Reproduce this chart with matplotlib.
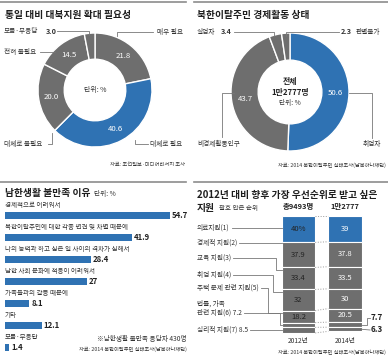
import matplotlib
matplotlib.use('Agg')
import matplotlib.pyplot as plt
import numpy as np

plt.rcParams['font.family'] = ['Noto Sans CJK KR', 'DejaVu Sans']

W, H = 388, 360
BLUE = '#2f72b3'
GRAY = '#6e6e6e'
TXT = '#333333'
RULE = '#8c8c8c'

# 통일 대비 대북지원 확대 필요성
need_labels = ['매우 필요', '대체로 필요', '대체로 불필요', '전혀 불필요', '모름·무응답']
need_values = [21.8, 40.6, 20.0, 14.5, 3.0]

# 북한이탈주민 경제활동 상태
econ_labels = ['취업자', '비경제활동인구', '실업자', '판별불가']
econ_values = [50.6, 43.7, 3.4, 2.3]

# 남한생활 불만족 이유
reason_labels = ['경제적으로 어려워서',
                 '북한이탈주민에 대한 각종 편견 및 차별 때문에',
                 '나의 능력과 하고 싶은 일 사이의 격차가 심해서',
                 '남한 사회 문화에 적응이 어려워서',
                 '가족들과의 갈등 때문에',
                 '기타',
                 '모름·무응답']
reason_values = [54.7, 41.9, 28.4, 27, 8.1, 12.1, 1.4]

# 향후 가장 우선순위로 받고 싶은 지원
support_labels = ['의료지원(1)', '경제적 지원(2)', '교육 지원(3)', '취업 지원(4)',
                  '주택 문제 관련 지원(5)', '법률, 가족\n관련 지원(6) 7.2',
                  '심리적 지원(7) 8.5']
support_2012 = [40, 37.9, 33.4, 32, 18.2, 7.2, 8.5]
support_2014 = [39, 37.8, 33.5, 30, 20.5, 7.7, 6.3]
years = ['2012년', '2014년']
totals = ['총9493명', '1만2777']


fig = plt.figure(figsize=(W / 100, H / 100), dpi=100)


def box(x0, y0, x1, y1):
    return [x0 / W, 1 - y1 / H, (x1 - x0) / W, (y1 - y0) / H]


# overlay in pixel coords for titles, notes and leader lines
ov = fig.add_axes([0, 0, 1, 1], zorder=10)
ov.set_xlim(0, W)
ov.set_ylim(H, 0)
ov.axis('off')


def lead(xs, ys):
    ov.plot(xs, ys, color='#777777', lw=0.6, clip_on=False)


for x0, x1, yy in [(0, 186, 2), (194, 388, 2), (0, 186, 182), (194, 388, 182)]:
    ov.plot([x0, x1], [yy, yy], color=RULE, lw=1.2)

tkw = dict(fontsize=7, weight='bold', va='center', color='#1e1e1e')
ov.text(5, 15, '통일 대비 대북지원 확대 필요성', **tkw)
ov.text(197, 15, '북한이탈주민 경제활동 상태', **tkw)
ov.text(5, 193, '남한생활 불만족 이유', **tkw)
ov.text(94, 194, '단위: %', fontsize=4.8, va='center', color=TXT)
ov.text(197, 195, '2012년 대비 향후 가장 우선순위로 받고 싶은', **tkw)
ov.text(197, 208, '지원', **tkw)
ov.text(219, 208, '괄호 안은 순위', fontsize=4.7, va='center', color=TXT)

lkw = dict(fontsize=4.8, va='center', color=TXT)
skw = dict(fontsize=3.8, va='center', color=TXT, ha='right')


def ring_values(ax, wedges, values):
    for w, v in zip(wedges, values):
        if v < 10:
            continue
        ang = np.deg2rad((w.theta1 + w.theta2) / 2)
        r = 0.77
        ax.text(r * np.cos(ang), r * np.sin(ang), '%.1f' % v, color='white',
                fontsize=5.6, ha='center', va='center')


# donut 1
ax1 = fig.add_axes(box(38, 33, 152, 147))
w1, _ = ax1.pie(need_values, startangle=90, counterclock=False,
                colors=[GRAY, BLUE, GRAY, GRAY, GRAY],
                wedgeprops=dict(width=0.46, edgecolor='white', linewidth=1))
ax1.set_xlim(-1, 1)
ax1.set_ylim(-1, 1)
ring_values(ax1, w1, need_values)
ax1.text(0, 0, '단위: %', fontsize=5, ha='center', va='center', color=TXT)

ov.text(4, 31, need_labels[4], **lkw)
ov.text(46, 31, '%.1f' % need_values[4], fontsize=5.2, weight='bold', va='center', color=TXT)
lead([57, 89, 89], [31, 31, 35])
ov.text(4, 52, need_labels[3], **lkw)
lead([40, 55], [52, 52])
ov.text(4, 144, need_labels[2], **lkw)
lead([48, 52, 52], [144, 144, 133])
ov.text(157, 32, need_labels[0], **lkw)
lead([117, 117, 153], [36, 32, 32])
ov.text(150, 144, need_labels[1], **lkw)
lead([135, 135, 148], [140, 144, 144])
ov.text(185, 164, '자료: 조선일보·미디어리서치 조사', **skw)

# donut 2
ax2 = fig.add_axes(box(231, 33, 349, 151))
w2, _ = ax2.pie(econ_values, startangle=90, counterclock=False,
                colors=[BLUE, GRAY, GRAY, GRAY],
                wedgeprops=dict(width=0.46, edgecolor='white', linewidth=1))
ax2.set_xlim(-1, 1)
ax2.set_ylim(-1, 1)
ring_values(ax2, w2, econ_values)
ax2.text(0, 0.17, '전체', fontsize=5.7, weight='bold', ha='center', va='center', color='#222222')
ax2.text(0, 0, '1만2777명', fontsize=5.7, weight='bold', ha='center', va='center', color='#222222')
ax2.text(0, -0.19, '단위: %', fontsize=4.8, ha='center', va='center', color=TXT)

ov.text(197, 32, econ_labels[2], **lkw)
ov.text(221, 32, '%.1f' % econ_values[2], fontsize=5.2, weight='bold', va='center', color=TXT)
lead([234, 274, 274], [32, 32, 36])
ov.text(341, 32, '%.1f' % econ_values[3], fontsize=5.2, weight='bold', va='center', color=TXT)
ov.text(356, 32, econ_labels[3], **lkw)
lead([286, 286, 339], [36, 32, 32])
ov.text(197, 144, econ_labels[1], **lkw)
lead([234, 222, 222], [93, 93, 137])
ov.text(372, 144, econ_labels[0], ha='center', fontsize=4.8, va='center', color=TXT)
lead([349, 372, 372], [93, 93, 138])
ov.text(386, 165, '자료: 2014 북한이탈주민 실태조사(남북하나재단)', **skw)

# bars
ax3 = fig.add_axes(box(5, 204.7, 185, 358.7))
ypos = np.arange(len(reason_values))
ax3.barh(ypos, reason_values, height=0.32, color=BLUE)
ax3.set_xlim(0, 180 / 3.02)
ax3.set_ylim(len(reason_values) - 0.5, -0.5)
ax3.axis('off')
for i, (lab, v) in enumerate(zip(reason_labels, reason_values)):
    ax3.text(0, i - 0.48, lab, fontsize=4.7, va='center', color=TXT)
    ax3.text(v + 0.6, i, '%g' % v, fontsize=5.6, weight='bold', va='center', color='#222222')
ov.text(187, 339, '※남한생활 불만족 응답자 430명', fontsize=4.8, va='center', color=TXT, ha='right')
ov.text(187, 349, '자료: 2014 북한이탈주민 실태조사(남북하나재단)', **skw)

# stacked columns
TOP, BOT = 216, 334
YMAX = 178.8
ax4 = fig.add_axes(box(194, TOP, 388, BOT))
ax4.set_xlim(-2.247, 1.925)
ax4.set_ylim(YMAX, 0)
ax4.axis('off')
BW = 0.72


def ypx(d):
    return TOP + d * (BOT - TOP) / YMAX


def ydat(p):
    return (p - TOP) * YMAX / (BOT - TOP)


def xpx(x):
    return 194 + (x + 2.247) / (1.925 + 2.247) * 194


cums = []
for xi, vals, tc in [(0, support_2012, '#222222'), (1, support_2014, 'white')]:
    bottoms = np.concatenate([[0], np.cumsum(vals)[:-1]])
    cums.append(np.concatenate([[0], np.cumsum(vals)]))
    cols = [BLUE] + [GRAY] * (len(vals) - 1)
    ax4.bar(np.full(len(vals), xi), vals, bottom=bottoms, width=BW, color=cols,
            edgecolor='white', linewidth=0.8)
    for j, (b, v) in enumerate(zip(bottoms, vals)):
        if v < 15:
            continue
        s = '%g' % v
        if xi == 0 and j == 0:
            s += '%'
        ax4.text(xi, b + v / 2, s, ha='center', va='center', fontsize=5.5, color=tc)
    ax4.text(xi, ydat(207), totals[xi], ha='center', va='center', fontsize=5.4,
             weight='bold', color='#222222')
    ax4.text(xi, ydat(341), years[xi], ha='center', va='center', fontsize=4.8, color=TXT)

for a, b in zip(cums[0], cums[1]):
    ax4.plot([BW / 2, 1 - BW / 2], [a, b], ls=':', color='#999999', lw=0.7, clip_on=False)

# left labels with leader lines to 2012 column
label_y = [228, 243, 258, 275, 288, 308, 330]
step_x = [None, None, 276, 273, 268, 280, None]
texts = []
for lab, yy in zip(support_labels, label_y):
    texts.append(ov.text(197, yy, lab, linespacing=1.15, **lkw))
fig.canvas.draw()
rend = fig.canvas.get_renderer()
col_left = xpx(-BW / 2)
c12 = cums[0]
for j, (t, yy, sx) in enumerate(zip(texts, label_y, step_x)):
    bb = t.get_window_extent(rend)
    x_end = bb.x1 + 2
    if '\n' in t.get_text():
        yy = yy + 5
    top, bot = ypx(c12[j]), ypx(c12[j + 1])
    if top <= yy <= bot:
        lead([x_end, col_left], [yy, yy])
    else:
        ty = top + min(2.5, (bot - top) / 2)
        lead([x_end, sx, sx, col_left], [yy, yy, ty, ty])

# right side small values for 2014
col_right = xpx(1 + BW / 2)
c14 = cums[1]
m77 = ypx((c14[5] + c14[6]) / 2)
m63 = ypx((c14[6] + c14[7]) / 2)
lead([col_right, 367, 367, 370], [m77, m77, 318, 318])
lead([col_right, 370], [m63, 330])
ov.text(371, 318, '%g' % support_2014[5], fontsize=5.8, weight='bold', va='center', color='#222222')
ov.text(371, 330, '%g' % support_2014[6], fontsize=5.8, weight='bold', va='center', color='#222222')
ov.text(386, 352, '자료: 2014 북한이탈주민 실태조사(남북하나재단)', **skw)

fig.savefig('out.png', dpi=100)
